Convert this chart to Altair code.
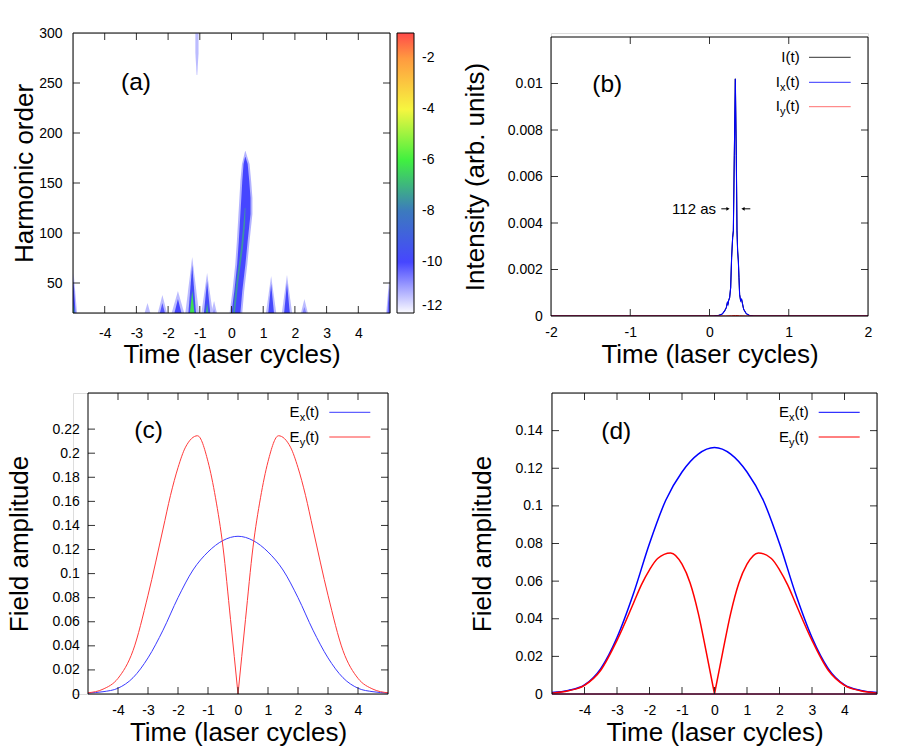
import altair as alt
import pandas as pd

FONT = "Liberation Sans"
TICK = "#333333"
TITLE_SIZE = 26
LABEL_SIZE = 14
LEG_SIZE = 15
SUB_SIZE = 11
PANEL_SIZE = 24.5

# ======================= DATA =======================
# ---- panel (a): time-frequency map ----
a_x_labels = [-4, -3, -2, -1, 0, 1, 2, 3, 4]
a_y_labels = [50, 100, 150, 200, 250, 300]
a_y_ticks = [50, 100, 150, 200, 250]
cb_levels = [-12, -10, -8, -6, -4, -2, -1]
cb_colors = ["#fbfbff", "#4646ff", "#3c7abe", "#40f040", "#f6f640", "#ff9a40", "#ff4a4a"]
cb_labels = [-12, -10, -8, -6, -4, -2]
cb_dash_levels = [-10, -8, -6, -4, -2]

# isolated bursts: centre time, half width at base, top harmonic, log level
burst_t = [-4.98, -2.65, -2.18, -1.69, -1.24, -0.77, -0.55, 1.25, 1.75, 2.30, 4.97]
burst_halfw = [0.06, 0.05, 0.08, 0.11, 0.12, 0.10, 0.05, 0.09, 0.09, 0.06, 0.05]
burst_top = [52, 22, 30, 34, 68, 52, 24, 49, 50, 26, 45]
burst_level = [-9.9, -11.3, -10.2, -10.0, -9.8, -9.8, -10.9, -9.9, -9.9, -10.7, -10.3]
core_t = [-4.98, -1.24, -0.77]
core_halfw = [0.03, 0.07, 0.04]
core_top = [30, 42, 30]
core_level = [-7.4, -6.3, -7.2]
# faint streak near the top
streak_h = [258, 280, 300]
streak_lo = [-1.10, -1.14, -1.14]
streak_hi = [-1.08, -1.04, -1.04]
streak_level = -11.3
# main tilted burst
stripe_h = [20, 42, 69, 92, 119, 135, 152, 169, 176]
stripe_lo = [0.00, 0.09, 0.18, 0.23, 0.28, 0.31, 0.34, 0.38, 0.43]
stripe_hi = [0.28, 0.34, 0.44, 0.51, 0.60, 0.60, 0.56, 0.51, 0.44]
stripe_halo_h = [20, 42, 69, 92, 119, 135, 152, 169, 182]
stripe_halo_lo = [-0.06, 0.03, 0.12, 0.17, 0.22, 0.25, 0.28, 0.33, 0.43]
stripe_halo_hi = [0.34, 0.40, 0.50, 0.57, 0.66, 0.66, 0.62, 0.57, 0.44]
stripe_core_h = [20, 50, 85, 110, 125]
stripe_core_lo = [0.05, 0.15, 0.30, 0.38, 0.42]
stripe_core_hi = [0.11, 0.21, 0.36, 0.43, 0.44]
stripe_level = -10.0
stripe_core_level = -7.6

# ---- panel (b): intensity ----
b_x_labels = [-2, -1, 0, 1, 2]
b_x_ticks = [-1, 0, 1]
b_y_labels = [0, 0.002, 0.004, 0.006, 0.008, 0.01]
b_y_ticks = [0.002, 0.004, 0.006, 0.008, 0.01]
b_t = [-2.0, 0.05, 0.12, 0.16, 0.191, 0.212, 0.225, 0.233, 0.240, 0.254, 0.267, 0.279, 0.292, 0.301, 0.313,
       0.326, 0.338, 0.347, 0.355, 0.364, 0.372, 0.380, 0.393, 0.405, 0.418, 0.431, 0.464, 0.506, 0.56, 2.0]
b_I = [0, 0, 0.00003, 0.00008, 0.00022, 0.00036, 0.00057, 0.0005, 0.00065, 0.00079, 0.00122, 0.00251, 0.00337,
       0.00366, 0.0069, 0.0102, 0.0069, 0.00366, 0.0028, 0.00237, 0.00165, 0.00093, 0.00065, 0.00072, 0.0005,
       0.00029, 0.0001, 0.00002, 0, 0]
b_Ix = [0, 0, 0.00003, 0.00008, 0.00022, 0.00036, 0.00057, 0.0005, 0.00065, 0.00079, 0.00122, 0.00251, 0.00337,
        0.00366, 0.0069, 0.0102, 0.0069, 0.00366, 0.0028, 0.00237, 0.00165, 0.00093, 0.00065, 0.00072, 0.0005,
        0.00029, 0.0001, 0.00002, 0, 0]
b_iy_t = [-2.0, 0.2, 0.28, 0.33, 0.38, 0.45, 2.0]
b_Iy = [0, 0, 0.00001, 0.00002, 0.00001, 0, 0]
fwhm_left = [0.149, 0.233]
fwhm_right = [0.423, 0.515]
fwhm_level = 0.00461
fwhm_text = "112 as"
b_legend_main = ["I", "I", "I"]
b_legend_sub = ["", "x", "y"]

# ---- panels (c), (d): field amplitudes ----
cd_x_labels = [-4, -3, -2, -1, 0, 1, 2, 3, 4]
c_y_labels = [0, 0.02, 0.04, 0.06, 0.08, 0.1, 0.12, 0.14, 0.16, 0.18, 0.2, 0.22]
c_y_ticks = [0.02, 0.04, 0.06, 0.08, 0.1, 0.12, 0.14, 0.16, 0.18, 0.2, 0.22]
d_y_labels = [0, 0.02, 0.04, 0.06, 0.08, 0.1, 0.12, 0.14]
d_y_ticks = [0.02, 0.04, 0.06, 0.08, 0.1, 0.12, 0.14]
ex_t = [-5, -4.5, -4, -3.5, -3, -2.5, -2, -1.5, -1, -0.5, 0, 0.5, 1, 1.5, 2, 2.5, 3, 3.5, 4, 4.5, 5]
ex_vals = [0.0008, 0.0019, 0.0048, 0.0135, 0.030, 0.053, 0.080, 0.103, 0.118, 0.1275, 0.131,
           0.1275, 0.118, 0.103, 0.080, 0.053, 0.030, 0.0135, 0.0048, 0.0019, 0.0008]
ey_t = [-5, -4.5, -4, -3.5, -3, -2.5, -2.25, -2, -1.75, -1.35, -1, -0.75, -0.5, -0.25, 0,
        0.25, 0.5, 0.75, 1, 1.35, 1.75, 2, 2.25, 2.5, 3, 3.5, 4, 4.5, 5]
c_ey = [0.001, 0.004, 0.013, 0.036, 0.082, 0.137, 0.165, 0.188, 0.205, 0.2145, 0.193, 0.163, 0.122, 0.062, 0,
        0.062, 0.122, 0.163, 0.193, 0.2145, 0.205, 0.188, 0.165, 0.137, 0.082, 0.036, 0.013, 0.004, 0.001]
d_ey = [0.0004, 0.0017, 0.0046, 0.0126, 0.0285, 0.048, 0.058, 0.066, 0.072, 0.075, 0.069, 0.059, 0.043, 0.022, 0,
        0.022, 0.043, 0.059, 0.069, 0.075, 0.072, 0.066, 0.058, 0.048, 0.0285, 0.0126, 0.0046, 0.0017, 0.0004]
d_base_t = [-5, 5]
d_base_v = [0, 0]
e_legend_main = ["E", "E"]
e_legend_sub = ["x", "y"]


# ======================= HELPERS =======================
class Box:
    """Plot rectangle inside a panel group: offset (ox, oy) and size (W, H)."""

    def __init__(self, ox, oy, W, H):
        self.ox, self.oy, self.W, self.H = ox, oy, W, H

    def xscale(self, domain):
        return alt.Scale(domain=domain, nice=False, zero=False, range=[self.ox, self.ox + self.W])

    def yscale(self, domain):
        return alt.Scale(domain=domain, nice=False, zero=False, range=[self.oy + self.H, self.oy])


def x_axis(values, title, box, pad, title_y):
    return alt.Axis(values=values, title=title, titleX=box.ox + box.W / 2, titleY=title_y, titleAlign="center",
                    titleBaseline="alphabetic", titleAngle=0, titleFont=FONT, titleFontSize=TITLE_SIZE,
                    titleFontWeight="normal", titleColor="black", labelFont=FONT, labelFontSize=LABEL_SIZE,
                    labelColor="black", labelPadding=pad, labelExpr="'' + datum.value", labelFlush=False,
                    labelOverlap=False, labelAngle=0, ticks=False, tickSize=0, domain=False, grid=False)


def y_axis(values, title, box, pad, title_x):
    return alt.Axis(values=values, title=title, titleX=title_x, titleY=box.oy + box.H / 2, titleAlign="center",
                    titleBaseline="alphabetic", titleAngle=270, titleFont=FONT, titleFontSize=TITLE_SIZE,
                    titleFontWeight="normal", titleColor="black", labelFont=FONT, labelFontSize=LABEL_SIZE,
                    labelColor="black", labelPadding=pad, labelExpr="'' + datum.value", labelFlush=False,
                    labelOverlap=False, ticks=False, tickSize=0, domain=False, grid=False, offset=-box.ox)


def inward_ticks(box, xs, ys, xax, yax, xvals, yvals, L=7):
    dfx = pd.DataFrame({"tx": xvals})
    dfy = pd.DataFrame({"ty": yvals})
    rx = alt.Chart(dfx).mark_rule(color=TICK, strokeWidth=1)
    ry = alt.Chart(dfy).mark_rule(color=TICK, strokeWidth=1)
    x0, x1, y0, y1 = box.ox, box.ox + box.W, box.oy, box.oy + box.H
    return [
        rx.encode(x=alt.X("tx:Q", scale=xs, axis=xax), y=alt.value(y1), y2=alt.value(y1 - L)),
        rx.encode(x=alt.X("tx:Q", scale=xs, axis=xax), y=alt.value(y0), y2=alt.value(y0 + L)),
        ry.encode(y=alt.Y("ty:Q", scale=ys, axis=yax), x=alt.value(x0), x2=alt.value(x0 + L)),
        ry.encode(y=alt.Y("ty:Q", scale=ys, axis=yax), x=alt.value(x1), x2=alt.value(x1 - L)),
    ]


def frame(box):
    return alt.Chart(pd.DataFrame({"k": [0]})).mark_rect(filled=False, color="black", strokeWidth=1).encode(
        x=alt.value(box.ox), x2=alt.value(box.ox + box.W), y=alt.value(box.oy), y2=alt.value(box.oy + box.H))


def txt(s, px, py, size, align="right"):
    return alt.Chart(pd.DataFrame({"s": [s]})).mark_text(
        align=align, baseline="alphabetic", font=FONT, fontSize=size, color="black"
    ).encode(text="s:N", x=alt.value(px), y=alt.value(py))


def legend_entry(box, main, sub, right, cy, x1, x2, color, width):
    right, x1, x2, cy = right + box.ox, x1 + box.ox, x2 + box.ox, cy + box.oy
    base = cy + 4.5
    w_tail = 0.944 * LEG_SIZE
    w_sub = 0.5 * SUB_SIZE
    out = [txt("(t)", right, base, LEG_SIZE)]
    if sub:
        out.append(txt(sub, right - w_tail, base + 4, SUB_SIZE))
        out.append(txt(main, right - w_tail - w_sub, base, LEG_SIZE))
    else:
        out.append(txt(main, right - w_tail, base, LEG_SIZE))
    out.append(alt.Chart(pd.DataFrame({"k": [0]})).mark_rule(color=color, strokeWidth=width).encode(
        x=alt.value(x1), x2=alt.value(x2), y=alt.value(cy)))
    return out


def anchor(gw, gh, left, top, right, bottom):
    # invisible box fixing the panel's layout footprint (relative to the panel group)
    return alt.Chart(pd.DataFrame({"k": [0]})).mark_rect(opacity=0).encode(
        x=alt.value(-left), x2=alt.value(gw + right), y=alt.value(-top), y2=alt.value(gh + bottom))


# ======================= PANEL (a) =======================
box_a = Box(0, 0, 317, 280)
xs_a, ys_a = box_a.xscale([-5, 5]), box_a.yscale([20, 300])
xax_a = x_axis(a_x_labels, "Time (laser cycles)", box_a, 13.5, 49)
yax_a = y_axis(a_y_labels, "Harmonic order", box_a, 11, -40.8)

halo_rows, body_rows, core_rows = [], [], []
for i, (t, w, top, lev) in enumerate(zip(burst_t, burst_halfw, burst_top, burst_level)):
    halo_rows += [dict(id=f"h{i}", h=20, lo=t - 1.8 * w, hi=t + 1.8 * w, level=-11.3),
                  dict(id=f"h{i}", h=top + 8, lo=t, hi=t, level=-11.3)]
    body_rows += [dict(id=f"b{i}", h=20, lo=t - w, hi=t + w, level=lev),
                  dict(id=f"b{i}", h=top, lo=t, hi=t, level=lev)]
for i, (t, w, top, lev) in enumerate(zip(core_t, core_halfw, core_top, core_level)):
    core_rows += [dict(id=f"c{i}", h=20, lo=t - w, hi=t + w, level=lev),
                  dict(id=f"c{i}", h=top, lo=t, hi=t, level=lev)]
for h, lo, hi in zip(streak_h, streak_lo, streak_hi):
    halo_rows.append(dict(id="streak", h=h, lo=lo, hi=hi, level=streak_level))
for h, lo, hi in zip(stripe_halo_h, stripe_halo_lo, stripe_halo_hi):
    halo_rows.append(dict(id="stripe_h", h=h, lo=lo, hi=hi, level=-11.2))
for h, lo, hi in zip(stripe_h, stripe_lo, stripe_hi):
    body_rows.append(dict(id="stripe_b", h=h, lo=lo, hi=hi, level=stripe_level))
for h, lo, hi in zip(stripe_core_h, stripe_core_lo, stripe_core_hi):
    core_rows.append(dict(id="stripe_c", h=h, lo=lo, hi=hi, level=stripe_core_level))

cb_legend = alt.Legend(title=None, orient="right", offset=7, padding=0, gradientLength=box_a.H,
                       gradientThickness=17, values=cb_labels, labelFont=FONT, labelFontSize=LABEL_SIZE,
                       labelColor="black", labelExpr="'' + datum.value", gradientStrokeColor="black",
                       gradientStrokeWidth=1, labelOffset=8, labelBaseline="middle", labelOverlap=False,
                       direction="vertical")
color_a = alt.Color("level:Q", scale=alt.Scale(domain=cb_levels, range=cb_colors, interpolate="rgb"),
                    legend=cb_legend)


def a_area(rows):
    return alt.Chart(pd.DataFrame(rows)).mark_area(orient="horizontal", clip=True).encode(
        y=alt.Y("h:Q", scale=ys_a, axis=yax_a),
        x=alt.X("lo:Q", scale=xs_a, stack=None, axis=xax_a),
        x2="hi:Q",
        detail="id:N",
        color=color_a,
    )


a_layers = [anchor(317, 280, 72, 32, 66, 56), a_area(halo_rows), a_area(body_rows), a_area(core_rows)]
a_layers += inward_ticks(box_a, xs_a, ys_a, xax_a, yax_a, a_x_labels, a_y_ticks)
for lev in cb_dash_levels:
    a_layers.append(alt.Chart(pd.DataFrame({"k": [lev]})).mark_rule(
        color="#444444", strokeWidth=1.4, strokeDash=[6, 4]).encode(
        x=alt.value(box_a.W + 7), x2=alt.value(box_a.W + 24), y=alt.value(box_a.H * (-1 - lev) / 11)))
a_layers.append(txt("(a)", 48, 57.4, PANEL_SIZE, align="left"))
a_layers.append(frame(box_a))
panel_a = alt.layer(*a_layers).properties(width=317, height=280)

# ======================= PANEL (b) =======================
box_b = Box(0, 4, 317, 279)
xs_b, ys_b = box_b.xscale([-2, 2]), box_b.yscale([0, 0.012])
xax_b = x_axis(b_x_labels, "Time (laser cycles)", box_b, 9, 46.3)
yax_b = y_axis(b_y_labels, "Intensity (arb. units)", box_b, 8.7, -68)


def b_line(t, v, color, width):
    return alt.Chart(pd.DataFrame({"t": t, "v": v})).mark_line(clip=True, color=color, strokeWidth=width).encode(
        x=alt.X("t:Q", scale=xs_b, axis=xax_b),
        y=alt.Y("v:Q", scale=ys_b, axis=yax_b),
    )


b_layers = [anchor(317, 283, 93, 32, 10, 53),
            b_line(b_t, b_I, "#000000", 1), b_line(b_t, b_Ix, "#0000ff", 1.1),
            b_line(b_iy_t, b_Iy, "#ff0000", 1)]
b_layers += inward_ticks(box_b, xs_b, ys_b, xax_b, yax_b, b_x_ticks, b_y_ticks)
arrow_df = pd.DataFrame({"x1": [fwhm_left[0], fwhm_right[0]], "x2": [fwhm_left[1], fwhm_right[1]],
                         "y": [fwhm_level, fwhm_level]})
b_layers.append(alt.Chart(arrow_df).mark_rule(color="black", strokeWidth=1).encode(
    x=alt.X("x1:Q", scale=xs_b, axis=xax_b), x2="x2:Q", y=alt.Y("y:Q", scale=ys_b, axis=yax_b)))
b_layers.append(alt.Chart(pd.DataFrame({"x": [fwhm_left[1]], "y": [fwhm_level]})).mark_point(
    shape="triangle-right", filled=True, size=14, color="black", opacity=1).encode(
    x=alt.X("x:Q", scale=xs_b, axis=xax_b), y=alt.Y("y:Q", scale=ys_b, axis=yax_b)))
b_layers.append(alt.Chart(pd.DataFrame({"x": [fwhm_right[0]], "y": [fwhm_level]})).mark_point(
    shape="triangle-left", filled=True, size=14, color="black", opacity=1).encode(
    x=alt.X("x:Q", scale=xs_b, axis=xax_b), y=alt.Y("y:Q", scale=ys_b, axis=yax_b)))
b_layers.append(txt(fwhm_text, box_b.ox + 165, box_b.oy + 177.4, LEG_SIZE))
b_leg_colors = ["#333333", "#3333ff", "#ff7070"]
for main, sub, cy, col in zip(b_legend_main, b_legend_sub, [20.3, 45.3, 69.7], b_leg_colors):
    b_layers += legend_entry(box_b, main, sub, 248.7, cy, 258, 299.7, col, 1)
b_layers.append(txt("(b)", box_b.ox + 41.3, box_b.oy + 55.4, PANEL_SIZE, align="left"))
b_layers.append(frame(box_b))
panel_b = alt.layer(*b_layers).properties(width=317, height=283)


# ======================= PANELS (c), (d) =======================
def field_panel(box, ydom, ylabels, yticks, ey_vals, width, blue, red, lab, lab_x, lab_base,
                leg_right, leg_x1, leg_x2, title_x, ypad, with_base, anc):
    xs, ys = box.xscale([-5, 5]), box.yscale(ydom)
    xax = x_axis(cd_x_labels, "Time (laser cycles)", box, 9, 46.9)
    yax = y_axis(ylabels, "Field amplitude", box, ypad, title_x)
    ex_df = pd.DataFrame({"t": ex_t, "v": ex_vals})
    ey_rows = []
    for t, v in zip(ey_t, ey_vals):
        if t <= 0:
            ey_rows.append(dict(t=t, v=v, half="left"))
        if t >= 0:
            ey_rows.append(dict(t=t, v=v, half="right"))
    gw, gh = box.ox + box.W, box.oy + box.H
    layers = [
        anchor(gw, gh, *anc),
        alt.Chart(ex_df).mark_line(clip=True, color=blue, strokeWidth=width, interpolate="monotone").encode(
            x=alt.X("t:Q", scale=xs, axis=xax), y=alt.Y("v:Q", scale=ys, axis=yax)),
        alt.Chart(pd.DataFrame(ey_rows)).mark_line(clip=True, color=red, strokeWidth=width,
                                                   interpolate="monotone").encode(
            x=alt.X("t:Q", scale=xs, axis=xax), y=alt.Y("v:Q", scale=ys, axis=yax), detail="half:N"),
    ]
    if with_base:
        layers.append(alt.Chart(pd.DataFrame({"t": d_base_t, "v": d_base_v})).mark_line(
            clip=False, color="#c02a7a", strokeWidth=1.4).encode(
            x=alt.X("t:Q", scale=xs, axis=xax), y=alt.Y("v:Q", scale=ys, axis=yax)))
    layers += inward_ticks(box, xs, ys, xax, yax, cd_x_labels, yticks)
    for main, sub, cy, col in zip(e_legend_main, e_legend_sub, [19.3, 44.0], [blue, red]):
        layers += legend_entry(box, main, sub, leg_right, cy, leg_x1, leg_x2, col, 1)
    layers.append(txt(lab, box.ox + lab_x, box.oy + lab_base, PANEL_SIZE, align="left"))
    layers.append(frame(box))
    return alt.layer(*layers).properties(width=gw, height=gh)


box_c = Box(15, 0, 300, 301)
box_d = Box(1, 0, 325, 301)
panel_c = field_panel(box_c, [0, 0.25], c_y_labels, c_y_ticks, c_ey, 1, "#3a3aff", "#ff3a3a",
                      "(c)", 46.3, 44.7, 231.3, 241.3, 282.3, -61, 8.7, False, (72, 22, 50, 55))
panel_d = field_panel(box_d, [0, 0.16], d_y_labels, d_y_ticks, d_ey, 1.5, "#0000ff", "#ff0000",
                      "(d)", 49.3, 45.7, 256.7, 266.7, 307.7, -62, 9.7, True, (92, 22, 10, 55))

# ======================= LAYOUT =======================
chart = alt.concat(panel_a, panel_b, panel_c, panel_d, columns=2, spacing=0, align="each",
                   bounds="full").resolve_scale(
    color="independent").resolve_legend(color="independent").properties(
    padding=0, background="white"
).configure_view(stroke=None).configure(font=FONT)

chart.save("out.html", embed_options={"renderer": "svg", "actions": False})
